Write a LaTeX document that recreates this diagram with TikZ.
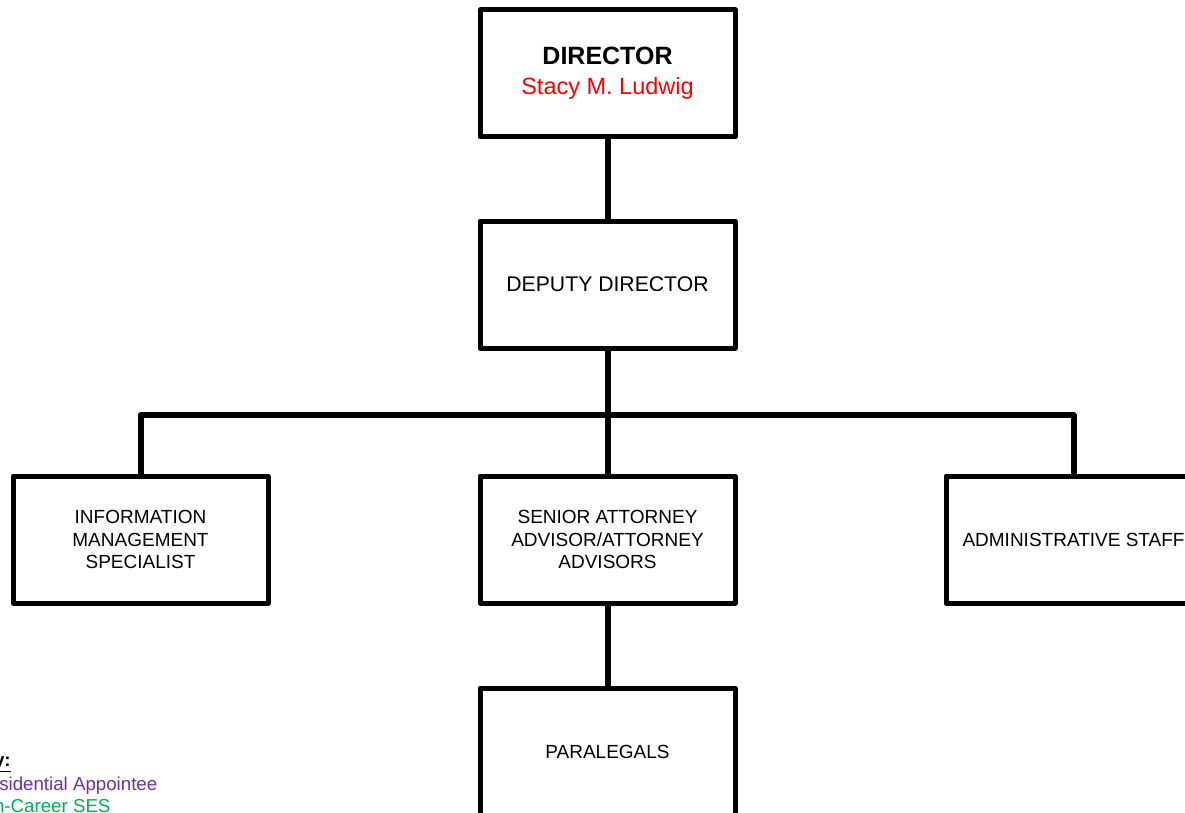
\documentclass[tikz,border=0pt]{standalone}
\usepackage{fontspec}
\setmainfont{Liberation Sans}
\usepackage{xcolor}
\usetikzlibrary{calc}
\definecolor{appointee}{RGB}{112,48,160}
\definecolor{careerses}{RGB}{0,176,80}

\begin{document}
\begin{tikzpicture}[x=1pt, y=-1pt,
    office/.style={draw=black, line width=5pt, line join=round, fill=white, minimum width=255pt, minimum height=127pt, align=center, inner sep=0pt, font=\fontsize{19}{22.5}\selectfont},
    link/.style={black, line width=6pt, line join=round},
    keytext/.style={anchor=base west, inner sep=0pt, font=\fontsize{18.7}{21}\selectfont}]
  \clip (0,0) rectangle (1185,813);
  \fill[white] (0,0) rectangle (1185,813);
  % connectors
  \coordinate (branch) at (607.5,415);
  \coordinate (dirpos) at (607.5,73.5);
  \coordinate (deppos) at (607.5,284.5);
  \coordinate (attpos) at (607.5,539.5);
  \coordinate (parapos) at (607.5,751.5);
  \coordinate (infopos) at (140.5,539.5);
  \coordinate (adminpos) at (1073.5,539.5);
  % boxes
  \node[office, text depth=5pt] (director) at (dirpos) {{\bfseries\fontsize{25}{30}\selectfont DIRECTOR}\\[7pt]{\fontsize{23.5}{28}\selectfont\color{red}Stacy M. Ludwig}};
  \node[office, font=\fontsize{21.2}{24}\selectfont] (deputy) at (deppos) {DEPUTY DIRECTOR};
  \node[office] (infomgmt) at (infopos) {INFORMATION\\MANAGEMENT\\SPECIALIST};
  \node[office] (attorney) at (attpos) {SENIOR ATTORNEY\\ADVISOR/ATTORNEY\\ADVISORS};
  \node[office] (admin) at (adminpos) {ADMINISTRATIVE STAFF};
  \node[office] (paralegal) at (parapos) {PARALEGALS};
  \draw[link] (director) -- (deputy);
  \draw[link] (deputy) -- (branch);
  \draw[link] (infomgmt.north) |- (branch) -| (admin.north);
  \draw[link] (branch) -- (attorney.north);
  \draw[link] (attorney) -- (paralegal);
  % key
  \node[keytext, font=\fontsize{18.7}{21}\selectfont\bfseries] (key) at (-30,766) {\underline{Key:}};
  \node[keytext, text=appointee] (pa) at (-30,790) {Presidential Appointee};
  \node[keytext, text=careerses] (ses) at (-30,812) {Non-Career SES};
\end{tikzpicture}
\end{document}
